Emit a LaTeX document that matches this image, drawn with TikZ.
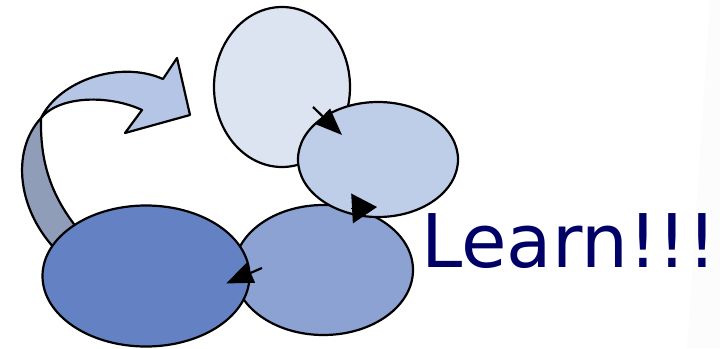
\documentclass[tikz,border=0pt]{standalone}
\usepackage{fontspec}
\newfontfamily\learnfont{DejaVu Sans}
\usetikzlibrary{shapes.geometric,arrows.meta}
\definecolor{cTop}{HTML}{DCE3F1}
\definecolor{cMid}{HTML}{BFCEE8}
\definecolor{cBR}{HTML}{8CA2D2}
\definecolor{cBL}{HTML}{6482C3}
\definecolor{cBandUp}{HTML}{B4C5E5}
\definecolor{cBandLo}{HTML}{8F9DB8}
\definecolor{cText}{HTML}{000066}
\definecolor{cWedge}{HTML}{FCFCFC}
\tikzset{
  blob/.style={ellipse, draw=black, line width=2.2pt, inner sep=0pt, outer sep=0pt},
  band/.style={draw=black, line width=2.2pt, line join=round},
  cyc/.style={line width=2.2pt, -{Triangle[length=27pt,width=21pt]}},
}
\begin{document}
\begin{tikzpicture}[x=1pt,y=-1pt]
\useasboundingbox (0,0) rectangle (720,348);
\fill[cWedge] (710,0) -- (720,0) -- (720,348) -- (687,348) -- cycle;
% twisted band arrow
\draw[band, fill=cBandLo] (58,252) .. controls (18,212) and (10,152) .. (41,118)
   .. controls (40,165) and (52,205) .. (95,248) -- cycle;
\draw[band, fill=cBandUp] (41,118) .. controls (60,80) and (120,60) .. (163,79)
   -- (177,58) -- (190,115) -- (125,133) -- (142,110)
   .. controls (110,95) and (60,95) .. (41,118) -- cycle;
% ellipses
\node[blob, fill=cTop, minimum width=136pt, minimum height=160pt] (e1) at (282,87) {};
\node[blob, fill=cBR, minimum width=179pt, minimum height=130pt] (e3) at (323.5,270) {};
\node[blob, fill=cMid, minimum width=160pt, minimum height=115pt] (e2) at (378,159.5) {};
\node[blob, fill=cBL, minimum width=207pt, minimum height=141pt] (e4) at (146,276) {};
% cycle arrowheads
\coordinate (a1s) at (313,107);
\coordinate (a1e) at (342,135);
\coordinate (a2s) at (351,208.5);
\coordinate (a2e) at (377,207);
\coordinate (a3s) at (262,268);
\coordinate (a3e) at (226,283.5);
\draw[cyc] (a1s) -- (a1e);
\draw[line width=0pt, -{Triangle[length=25pt,width=30pt]}] (a2s) -- (a2e);
\draw[cyc] (a3s) -- (a3e);
% text
\node[anchor=base west, inner sep=0pt, text=cText, font=\learnfont\fontsize{74}{80}\selectfont] (learn) at (421,267) {Learn!!!};
\end{tikzpicture}
\end{document}
